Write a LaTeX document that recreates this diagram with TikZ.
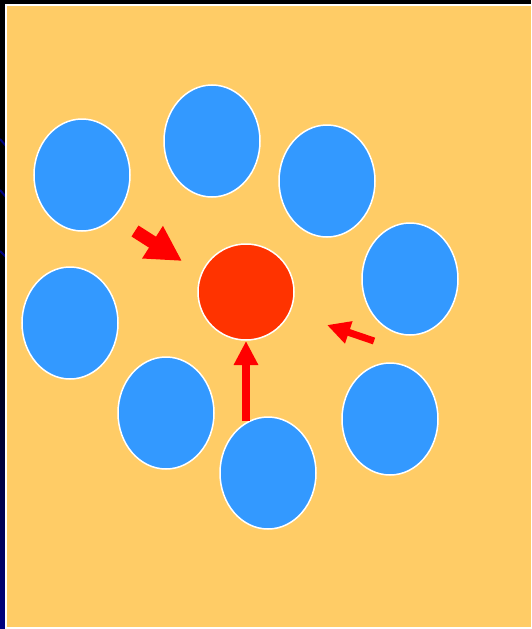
\documentclass[tikz,border=0pt]{standalone}
\usetikzlibrary{shapes.geometric,arrows.meta}
\definecolor{bgorange}{HTML}{FFCC66}
\definecolor{ballblue}{HTML}{3399FF}
\definecolor{ballred}{HTML}{FF3300}
\definecolor{arrowred}{HTML}{FF0000}
\definecolor{navyedge}{HTML}{000080}
\tikzset{
  ball/.style={ellipse, draw=white, line width=1.5pt, fill=ballblue, minimum width=96pt, minimum height=112pt, inner sep=0pt},
  core/.style={circle, draw=white, line width=1.5pt, fill=ballred, minimum size=96pt, inner sep=0pt},
  push/.style={draw=arrowred, -{Triangle[length=#1]}},
}
\begin{document}
\begin{tikzpicture}[x=1pt,y=-1pt]
\useasboundingbox (0,0) rectangle (531,629);
\fill[black] (0,0) rectangle (531,629);
\shade[top color=black, bottom color=navyedge, middle color=black] (0,0) rectangle (5,629);
\begin{scope}
\clip (0,0) rectangle (5,629);
\draw[navyedge, line width=2pt] (0,139) -- (6,146);
\draw[navyedge, line width=2pt] (0,190) -- (6,197);
\draw[navyedge, line width=2pt] (0,251) -- (6,257);
\end{scope}
\fill[white] (5,4) rectangle (531,629);
\fill[bgorange] (7,6) rectangle (531,627);
\node[ball] (b1) at (82,175) {};
\node[ball] (b2) at (212,141) {};
\node[ball] (b3) at (327,181) {};
\node[ball] (b4) at (410,279) {};
\node[ball] (b5) at (70,323) {};
\node[ball] (b6) at (166,413) {};
\node[ball] (b7) at (390,419) {};
\node[ball] (b8) at (268,473) {};
\node[core] (c) at (246,292) {};
\coordinate (a1s) at (135,231);
\coordinate (a1e) at (182,261);
\coordinate (a2s) at (374,341);
\coordinate (a2e) at (327,325);
\coordinate (a3s) at (246,421);
\coordinate (a3e) at (246,341);
\draw[push=35pt, line width=13pt, arrows={-{Triangle[length=35pt,width=36pt]}}] (a1s) -- (a1e);
\draw[draw=arrowred, line width=7pt, arrows={-{Triangle[length=23pt,width=22pt]}}] (a2s) -- (a2e);
\draw[draw=arrowred, line width=8pt, arrows={-{Triangle[length=24pt,width=23pt]}}] (a3s) -- (a3e);
\end{tikzpicture}
\end{document}
